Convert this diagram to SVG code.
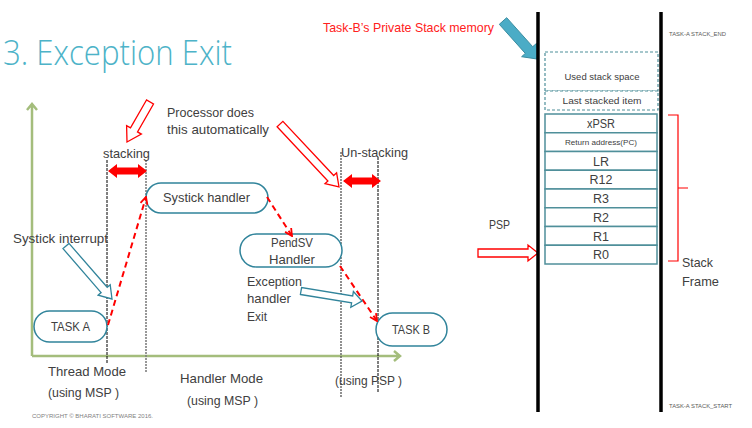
<svg xmlns="http://www.w3.org/2000/svg" width="752" height="428" viewBox="0 0 752 428">
<style>
  .lbl{font-family:"Liberation Sans",Arial,sans-serif;font-size:13px;fill:#404040}
  .sm{font-family:"Liberation Sans",Arial,sans-serif;font-size:6px;fill:#595959}
  .cell{fill:#fff;stroke:#4F8F9A;stroke-width:1.5}
  .dcell{fill:#fff;stroke:#4F8F9A;stroke-width:1.2;stroke-dasharray:3,2}
  .ctxt{font-family:"Liberation Sans",Arial,sans-serif;font-size:12.5px;fill:#404040;text-anchor:middle}
  .node{fill:#fff;stroke:#31849B;stroke-width:1.5}
  .ntxt{font-family:"Liberation Sans",Arial,sans-serif;font-size:13px;fill:#404040;text-anchor:middle}
  .hred{fill:#fff;stroke:#FF0000;stroke-width:1.3}
  .hteal{fill:#fff;stroke:#31849B;stroke-width:1.3}
  .dash{fill:none;stroke:#FF0000;stroke-width:2;stroke-dasharray:6,4}
  .axis{fill:none;stroke:#A4BD7C;stroke-width:2.5}
</style>
<defs>
  <marker id="chev" viewBox="0 0 10 10" refX="9" refY="5" markerWidth="9" markerHeight="9" orient="auto" markerUnits="userSpaceOnUse">
    <path d="M1,1 L9,5 L1,9" fill="none" stroke="#FF0000" stroke-width="2"/>
  </marker>
</defs>

<rect width="752" height="428" fill="#fff"/>

<text x="3" y="65" font-family="'Open Sans','Liberation Sans',sans-serif" font-size="34" font-weight="300" fill="#4DB3C8" textLength="229" lengthAdjust="spacingAndGlyphs">3. Exception Exit</text>

<!-- axes -->
<g id="axes">
  <path class="axis" d="M32,356 V104 M27,110 L32,104 L37,110"/>
  <path class="axis" d="M32,356 H400 M394,351 L400,356 L394,361"/>
</g>

<!-- vertical dotted lines -->
<g id="guides">
  <line x1="107" y1="160" x2="107" y2="364" stroke="#000" stroke-width="1" stroke-dasharray="3,1"/>
  <line x1="146" y1="160" x2="146" y2="373" stroke="#7F7F7F" stroke-width="1.6" stroke-dasharray="2,1"/>
  <line x1="341" y1="152" x2="341" y2="397" stroke="#555" stroke-width="1.3" stroke-dasharray="2,1"/>
  <line x1="378" y1="157" x2="378" y2="392" stroke="#000" stroke-width="1" stroke-dasharray="3,1"/>
</g>

<!-- nodes -->
<g id="taskA">
  <rect class="node" x="34" y="311" width="73" height="31" rx="15.5"/>
  <text class="ntxt" x="70.5" y="331" textLength="39" lengthAdjust="spacingAndGlyphs">TASK A</text>
</g>
<g id="systick">
  <rect class="node" x="146" y="183" width="122" height="30" rx="15"/>
  <text class="ntxt" x="206.5" y="202" textLength="87" lengthAdjust="spacingAndGlyphs">Systick handler</text>
</g>
<g id="pendsv">
  <rect class="node" x="240" y="234" width="102" height="33" rx="16.5"/>
  <text class="ntxt" x="292" y="247" textLength="42" lengthAdjust="spacingAndGlyphs">PendSV</text>
  <text class="ntxt" x="292" y="264" textLength="46" lengthAdjust="spacingAndGlyphs">Handler</text>
</g>
<g id="taskB">
  <rect class="node" x="376" y="313" width="71" height="33" rx="16.5"/>
  <text class="ntxt" x="411" y="334" textLength="38" lengthAdjust="spacingAndGlyphs">TASK B</text>
</g>

<!-- connectors -->
<g id="connectors">
  <line class="dash" x1="108" y1="325" x2="146" y2="197" marker-end="url(#chev)"/>
  <line class="dash" x1="267" y1="197" x2="292" y2="236" marker-end="url(#chev)"/>
  <line class="dash" x1="340" y1="266" x2="377" y2="321" marker-end="url(#chev)"/>
  <!-- stacking / unstacking double arrows -->
  <polygon fill="#FF0000" points="108,171 117,164 117,167.5 138,167.5 138,164 147,171 138,178 138,174.5 117,174.5 117,178"/>
  <polygon fill="#FF0000" points="343,181 352,174 352,177.5 372,177.5 372,174 381,181 372,188 372,184.5 352,184.5 352,188"/>
  <!-- hollow red arrows -->
  <polygon class="hred" points="146.5,100 130.5,127.9 126.6,125.6 127,142 141.4,134.1 137.5,131.9 153.5,104"/>
  <polygon class="hred" points="277.1,126.7 327.9,181 325,183.7 339,187 336.6,172.8 333.7,175.5 282.9,121.3"/>
  <!-- hollow teal arrows -->
  <polygon class="hteal" points="63,248.6 101.1,292.6 98.1,295.2 112,299 110.2,284.7 107.2,287.3 69,243.4"/>
  <polygon class="hteal" points="300.4,294.5 351.6,302.8 350.8,307.3 362,301 353.4,291.5 352.7,295.9 301.6,287.6"/>
  <!-- solid teal arrow -->
  <polygon fill="#4BACC6" stroke="#3A8CA0" stroke-width="1" points="499.3,24.3 525.3,53.4 521.6,56.7 537,59 536.5,43.4 532.7,46.7 506.7,17.7"/>
  <!-- PSP arrow -->
  <polygon class="hred" points="478,249 528,249 528,245 538,253 528,261 528,257 478,257"/>
  <!-- bracket -->
  <path d="M668,115 H678 V188 H688 M678,188 V261 H668" fill="none" stroke="#FF0000" stroke-width="1.2"/>
</g>

<!-- labels -->
<g id="labels">
  <text class="lbl" x="103" y="158" textLength="47" lengthAdjust="spacingAndGlyphs">stacking</text>
  <text class="lbl" x="167" y="117" textLength="87" lengthAdjust="spacingAndGlyphs">Processor does</text>
  <text class="lbl" x="167" y="134" textLength="102" lengthAdjust="spacingAndGlyphs">this automatically</text>
  <text class="lbl" x="341" y="157" textLength="67" lengthAdjust="spacingAndGlyphs">Un-stacking</text>
  <text class="lbl" x="13" y="243" textLength="95" lengthAdjust="spacingAndGlyphs">Systick interrupt</text>
  <text class="lbl" x="247" y="286" textLength="55" lengthAdjust="spacingAndGlyphs">Exception</text>
  <text class="lbl" x="247" y="303" textLength="44" lengthAdjust="spacingAndGlyphs">handler</text>
  <text class="lbl" x="247" y="321" textLength="20" lengthAdjust="spacingAndGlyphs">Exit</text>
  <text class="lbl" x="48" y="376" textLength="78" lengthAdjust="spacingAndGlyphs">Thread Mode</text>
  <text class="lbl" x="48" y="397" textLength="71" lengthAdjust="spacingAndGlyphs">(using MSP )</text>
  <text class="lbl" x="180" y="383" textLength="83" lengthAdjust="spacingAndGlyphs">Handler Mode</text>
  <text class="lbl" x="187" y="405" textLength="71" lengthAdjust="spacingAndGlyphs">(using MSP )</text>
  <text class="lbl" x="335" y="385" textLength="67" lengthAdjust="spacingAndGlyphs">(using PSP )</text>
  <text x="32" y="418" font-family="'Liberation Sans',Arial,sans-serif" font-size="5.5" fill="#7F7F7F" textLength="121" lengthAdjust="spacingAndGlyphs">COPYRIGHT © BHARATI SOFTWARE 2016.</text>
  <text class="lbl" x="323" y="32" style="fill:#FF2020" textLength="171" lengthAdjust="spacingAndGlyphs">Task-B’s Private Stack memory</text>
  <text class="lbl" x="489" y="229" textLength="21" lengthAdjust="spacingAndGlyphs">PSP</text>
  <text class="lbl" x="682" y="267" textLength="31" lengthAdjust="spacingAndGlyphs">Stack</text>
  <text class="lbl" x="682" y="286" textLength="37" lengthAdjust="spacingAndGlyphs">Frame</text>
  <text class="sm" x="669" y="36" textLength="57" lengthAdjust="spacingAndGlyphs">TASK-A STACK_END</text>
  <text class="sm" x="669" y="408" textLength="63" lengthAdjust="spacingAndGlyphs">TASK-A STACK_START</text>
</g>

<!-- stack memory -->
<g id="stack">
  <line x1="538" y1="12" x2="538" y2="412" stroke="#000" stroke-width="3.5"/>
  <line x1="661" y1="12" x2="661" y2="412" stroke="#000" stroke-width="3.5"/>
  <g id="used">
    <rect class="dcell" x="545" y="52" width="113" height="39"/>
    <text class="ctxt" x="602" y="80" style="font-size:9.5px" textLength="75" lengthAdjust="spacingAndGlyphs">Used stack space</text>
  </g>
  <g id="last">
    <rect class="dcell" x="545" y="91" width="113" height="19"/>
    <text class="ctxt" x="602" y="104" style="font-size:9.5px" textLength="79" lengthAdjust="spacingAndGlyphs">Last stacked item</text>
  </g>
  <g id="xpsr"><rect class="cell" x="545" y="114" width="112" height="18.75"/><text class="ctxt" x="601" y="128" textLength="28" lengthAdjust="spacingAndGlyphs">xPSR</text></g>
  <g id="pc"><rect class="cell" x="545" y="132.75" width="112" height="18.75"/><text class="ctxt" x="601" y="145" style="font-size:7.5px" textLength="72" lengthAdjust="spacingAndGlyphs">Return address(PC)</text></g>
  <g id="lr"><rect class="cell" x="545" y="151.5" width="112" height="18.75"/><text class="ctxt" x="601" y="165.5">LR</text></g>
  <g id="r12"><rect class="cell" x="545" y="170.25" width="112" height="18.75"/><text class="ctxt" x="601" y="184.2">R12</text></g>
  <g id="r3"><rect class="cell" x="545" y="189" width="112" height="18.75"/><text class="ctxt" x="601" y="203">R3</text></g>
  <g id="r2"><rect class="cell" x="545" y="207.75" width="112" height="18.75"/><text class="ctxt" x="601" y="221.7">R2</text></g>
  <g id="r1"><rect class="cell" x="545" y="226.5" width="112" height="18.75"/><text class="ctxt" x="601" y="240.5">R1</text></g>
  <g id="r0"><rect class="cell" x="545" y="245.25" width="112" height="18.75"/><text class="ctxt" x="601" y="259.2">R0</text></g>
</g>
</svg>
